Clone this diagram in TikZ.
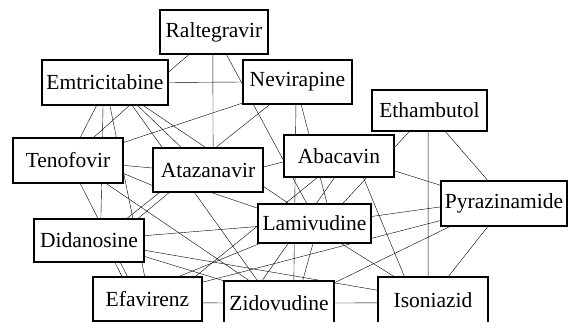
\documentclass[tikz,border=0pt]{standalone}
\usepackage{fontspec}
\setmainfont{Liberation Serif}
\usetikzlibrary{backgrounds}
\begin{document}
\begin{tikzpicture}[x=1pt,y=-1pt,
  box/.style={draw,line width=1.2pt,fill=white,inner sep=0pt,outer sep=0pt,font=\fontsize{21.5}{24}\selectfont}]
\useasboundingbox (0,0) rectangle (572,321);
\clip (0,0) rectangle (572,321);
% drugs
\node[box,minimum width=108pt,minimum height=44pt](ral) at(214,32) {Raltegravir};
\node[box,minimum width=126pt,minimum height=45pt](emt) at(105,82.5) {Emtricitabine};
\node[box,minimum width=109pt,minimum height=44pt](nev) at(297.5,82) {Nevirapine};
\node[box,minimum width=115pt,minimum height=41pt](eth) at(429.5,110.5) {Ethambutol};
\node[box,minimum width=110pt,minimum height=42pt](aba) at(339,156) {Abacavin};
\node[box,minimum width=110pt,minimum height=45pt](ten) at(68,160.5) {Tenofovir};
\node[box,minimum width=110pt,minimum height=44pt](ata) at(208,170) {Atazanavir};
\node[box,minimum width=113pt,minimum height=39pt](lam) at(314.5,223.5) {Lamivudine};
\node[box,minimum width=126pt,minimum height=45pt](pyr) at(504,203.5) {Pyrazinamide};
\node[box,minimum width=110pt,minimum height=43pt](did) at(89,240.5) {Didanosine};
\node[box,minimum width=109pt,minimum height=44pt](efa) at(147.5,299) {Efavirenz};
\node[box,minimum width=110pt,minimum height=44pt](zid) at(279,303) {Zidovudine};
\node[box,minimum width=110pt,minimum height=46pt](iso) at(433,300) {Isoniazid};
% interactions
\begin{scope}[on background layer,line width=1pt]
\draw (ral.-138)--(emt.9);
\draw (ral.-93)--(ata.77);
\draw (ral.-61)--(lam.111);
\draw (emt.east)--(nev.west);
\draw (emt.-110)--(ten.62);
\draw (emt.-95)--(did.61);
\draw (emt.-78)--(efa.97);
\draw (emt.-42)--(ten.42);
\draw (emt.-40)--(zid.134);
\draw (emt.-35)--(ata.140);
\draw (emt.-31)--(lam.142);
\draw (nev.-159)--(ten.18);
\draw (nev.-141)--(did.30);
\draw (nev.-94)--(zid.56);
\draw (nev.-81)--(lam.57);
\draw (eth.-134)--(lam.35);
\draw (eth.-94)--(iso.102);
\draw (eth.-53)--(pyr.125);
\draw (aba.-15)--(pyr.164);
\draw (ata.3)--(aba.-174);
\draw (ten.-5)--(ata.178);
\draw (ten.-13)--(ata.-164);
\draw (ten.-62)--(efa.132);
\draw (ten.-31)--(zid.143);
\draw (ata.-150)--(did.24);
\draw (ata.-85)--(lam.165);
\draw (did.5)--(lam.-177);
\draw (did.-10)--(iso.170);
\draw (did.-16)--(zid.158);
\draw (did.-40)--(efa.139);
\draw (lam.7)--(pyr.-177);
\draw (pyr.-165)--(efa.17);
\draw (pyr.-157)--(zid.20);
\draw (pyr.-125)--(iso.57);
\draw (aba.-41)--(iso.141);
\draw (lam.-37)--(iso.149);
\draw (lam.-94)--(zid.43);
\draw (zid.east)--(iso.-177);
\draw (efa.-4)--(zid.west);
\draw (efa.36)--(lam.-160);
\draw (aba.-135)--(efa.25);
\draw (aba.-101)--(zid.128);
\end{scope}
\end{tikzpicture}
\end{document}
